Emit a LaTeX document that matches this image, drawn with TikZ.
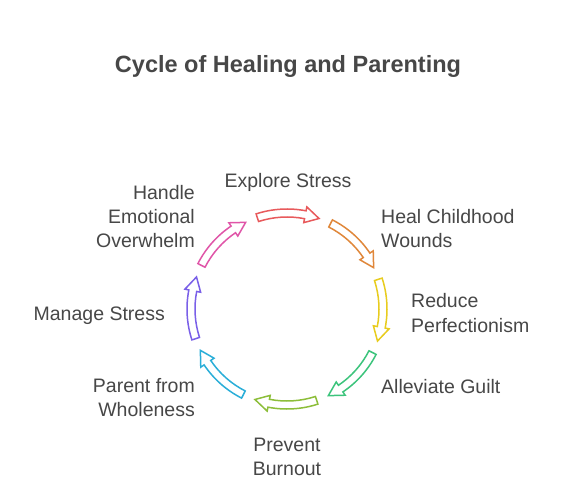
\documentclass[tikz,border=0pt]{standalone}
\usepackage{fontspec}
\setmainfont{Liberation Sans}
\definecolor{txt}{HTML}{474747}
\definecolor{cred}{HTML}{E85A5C}
\definecolor{corange}{HTML}{E0873A}
\definecolor{cyellow}{HTML}{E8CC1E}
\definecolor{cgreen}{HTML}{3CC47C}
\definecolor{clime}{HTML}{8DBE3A}
\definecolor{ccyan}{HTML}{2AAED8}
\definecolor{cpurple}{HTML}{7A60E8}
\definecolor{cpink}{HTML}{E055A8}
\newcommand\cycarrow[2]{%
  \draw[cyc,draw=#2] ({#1+18}:100) arc[start angle={#1+18}, end angle={#1-11}, radius=100]
    -- ({#1-11}:104) -- ({#1-19.5}:96) -- ({#1-11}:88) -- ({#1-11}:92)
    arc[start angle={#1-11}, end angle={#1+18}, radius=92] -- cycle;}
\begin{document}
\begin{tikzpicture}[x=1pt,y=1pt,
  cyc/.style={fill=white,line width=1.5pt},
  lbl/.style={inner sep=0pt,text=txt,font=\fontsize{19.5}{24}\selectfont},
  ttl/.style={inner sep=0pt,text=txt,font=\fontsize{23.5}{28}\selectfont\bfseries}]
\useasboundingbox[fill=white] (-287,-191) rectangle (277,309);
\node[ttl,anchor=base] (title) at (1,236) {Cycle of Healing and Parenting};
\cycarrow{90}{cred}
\cycarrow{45}{corange}
\cycarrow{0}{cyellow}
\cycarrow{-45}{cgreen}
\cycarrow{-90}{clime}
\cycarrow{-135}{ccyan}
\cycarrow{180}{cpurple}
\cycarrow{135}{cpink}
\node[lbl,anchor=base] (explore) at (1,121) {Explore Stress};
\node[lbl,anchor=base west,align=left] (heal) at (94,61) {Heal Childhood\\Wounds};
\node[lbl,anchor=base west,align=left] (reduce) at (124,-23) {Reduce\\Perfectionism};
\node[lbl,anchor=base west] (guilt) at (94,-84) {Alleviate Guilt};
\node[lbl,anchor=base,align=center] (burnout) at (0,-166) {Prevent\\Burnout};
\node[lbl,anchor=base east,align=right] (parent) at (-92,-107) {Parent from\\Wholeness};
\node[lbl,anchor=base east] (manage) at (-122,-11) {Manage Stress};
\node[lbl,anchor=base east,align=right] (handle) at (-92,61) {Handle\\Emotional\\Overwhelm};
\end{tikzpicture}
\end{document}
